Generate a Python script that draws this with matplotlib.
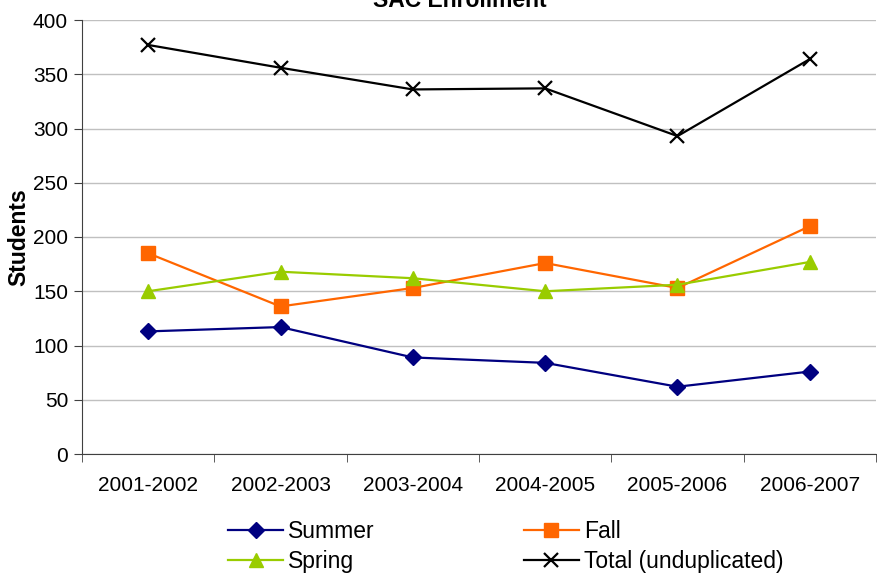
import numpy as np
import matplotlib
matplotlib.use('Agg')
import matplotlib.pyplot as plt

plt.rcParams['font.family'] = ['Liberation Sans', 'DejaVu Sans']

years  = ["2001-2002", "2002-2003", "2003-2004", "2004-2005", "2005-2006", "2006-2007"]
summer = [113, 117, 89, 84, 62, 76]
fall   = [185, 136, 153, 176, 153, 210]
spring = [150, 168, 162, 150, 156, 177]
total  = [377, 356, 336, 337, 293, 364]

fig = plt.figure(figsize=(8.77, 5.74), dpi=100)
ax = fig.add_axes([82/877, 120/574, 794/877, 434/574])
x = np.arange(len(years))

h_sum, = ax.plot(x, summer, color="#000080", marker="D", markersize=8, linewidth=1.6, label="Summer")
h_fall, = ax.plot(x, fall, color="#FF6600", marker="s", markersize=10, linewidth=1.6, label="Fall")
h_spr, = ax.plot(x, spring, color="#99CC00", marker="^", markersize=10, linewidth=1.6, label="Spring")
h_tot, = ax.plot(x, total, color="black", marker="x", markersize=10, markeredgewidth=1.6,
                 linewidth=1.6, label="Total (unduplicated)")

ax.set_xlim(-0.5, len(years) - 0.5)
ax.set_ylim(0, 400)
ax.set_yticks(np.arange(0, 401, 50))
ax.yaxis.grid(True, color="#c0c0c0", linewidth=1)
ax.set_axisbelow(True)
ax.set_xticks(x)
ax.set_xticklabels(years, fontsize=15)
ax.tick_params(axis="x", length=0, pad=16)
ax.set_xticks(np.arange(-0.5, len(years)), minor=True)
ax.tick_params(axis="x", which="minor", length=6, color="#404040")
ax.tick_params(axis="y", labelsize=15, length=6, color="#404040", pad=4)
for s in ["top", "right"]:
    ax.spines[s].set_visible(False)
for s in ["left", "bottom"]:
    ax.spines[s].set_color("#404040")

ax.set_ylabel("Students", fontsize=16.5, fontweight="bold", labelpad=2)

# title sits partly above the top edge, as in the original
fig.text(460/877, 567/574, "SAC Enrollment", ha="center", va="baseline",
         fontsize=16.5, fontweight="bold")

# row order: Summer, Fall / Spring, Total
fig.legend([h_sum, h_spr, h_fall, h_tot],
           ["Summer", "Spring", "Fall", "Total (unduplicated)"],
           loc="upper left", bbox_to_anchor=(228/877, 54/574), ncol=2, frameon=False,
           fontsize=16.5, columnspacing=6.5, handlelength=2.4, handletextpad=0.22,
           labelspacing=0.3, borderpad=0, borderaxespad=0)

plt.savefig("out.png", dpi=100)
